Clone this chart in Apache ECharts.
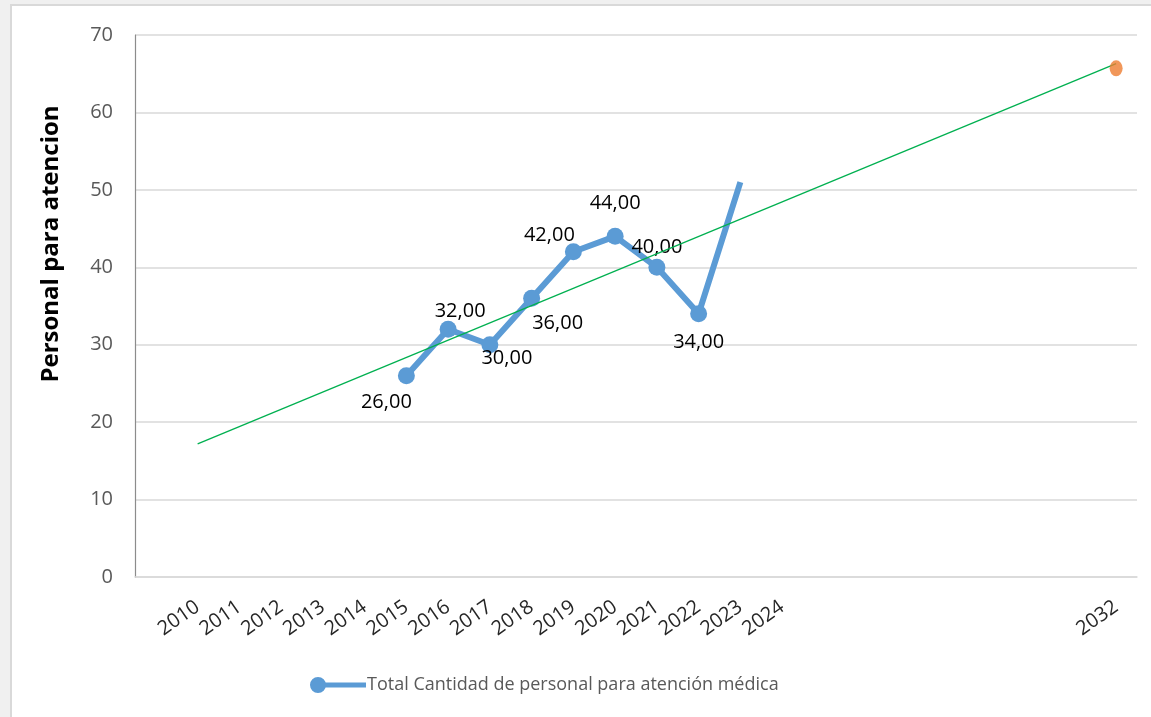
<!DOCTYPE html>
<html>
<head>
<meta charset="utf-8">
<script src="https://cdn.jsdelivr.net/npm/echarts@6/dist/echarts.min.js"></script>
<style>
  html, body { margin: 0; padding: 0; background: #f0f0f0; width: 1151px; height: 717px; overflow: hidden; }
  #frame { position: absolute; left: 10px; top: 4px; width: 1200px; height: 800px; background: #ffffff; border: 2px solid #d9d9d9; }
  #chart { position: absolute; left: 0; top: 0; width: 1151px; height: 717px; }
</style>
</head>
<body>
<div id="frame"></div>
<div id="chart"></div>
<script>
// ---- data ----
const years = [2015, 2016, 2017, 2018, 2019, 2020, 2021, 2022, 2023];
const personal = [26, 32, 30, 36, 42, 44, 40, 34, 51];
const xTickLabels = [2010, 2011, 2012, 2013, 2014, 2015, 2016, 2017, 2018, 2019, 2020, 2021, 2022, 2023, 2024, 2032];
const trendYears = [2010, 2032];
const trendValues = [17.2, 66.3];
const forecastYear = [2032];
const forecastValue = [65.7];
const seriesName = 'Total Cantidad de personal para atención médica';
const yAxisTitle = 'Personal para atencion';

// ---- label placement (style, not data) ----
const labelOffsets = [[-20, 27], [12, -18], [17, 14], [26, 25], [-24, -17], [0, -33], [0, -20], [0, 29], [0, -31]];

const FONT = 'Open Sans';
const mainData = years.map((y, i) => {
  const item = {
    value: [y, personal[i]],
    label: { position: 'inside', offset: labelOffsets[i] }
  };
  if (i === years.length - 1) item.symbol = 'none';
  return item;
});

const chart = echarts.init(document.getElementById('chart'), null, { renderer: 'canvas' });
chart.setOption({
  backgroundColor: 'transparent',
  animation: false,
  textStyle: { fontFamily: FONT },
  grid: { left: 135, top: 35, right: 14, bottom: 140, containLabel: false },
  legend: {
    left: 305, top: 671,
    itemWidth: 56, itemHeight: 16, itemGap: 10,
    data: [{
      name: seriesName,
      icon: 'path://M0,8 A8,8 0 1,1 16,8 A8,8 0 1,1 0,8 Z M12,5.5 L56,5.5 L56,10.5 L12,10.5 Z'
    }],
    textStyle: { color: '#595959', fontSize: 18, fontFamily: FONT, padding: [0, 0, 0, -4] }
  },
  xAxis: {
    type: 'value',
    min: 2008.5, max: 2032.5,
    axisLine: { show: true, onZero: true, lineStyle: { color: '#d9d9d9', width: 1.5 } },
    axisTick: { show: false },
    splitLine: { show: false },
    axisLabel: {
      customValues: xTickLabels,
      rotate: 35,
      margin: 28,
      fontSize: 20,
      color: '#262626',
      fontFamily: FONT,
      formatter: v => String(v)
    }
  },
  yAxis: {
    type: 'value',
    min: 0, max: 70, interval: 10,
    name: yAxisTitle,
    nameLocation: 'middle',
    nameRotate: 90,
    nameGap: 72,
    nameTextStyle: { fontSize: 24, fontWeight: 'bold', color: '#000', fontFamily: FONT, padding: [0, 0, 0, 124] },
    axisLine: { show: true, lineStyle: { color: '#8c8c8c', width: 1.2 } },
    axisTick: { show: false },
    splitLine: { show: true, lineStyle: { color: '#d9d9d9', width: 1.5 } },
    axisLabel: { fontSize: 20, color: '#595959', margin: 22, fontFamily: FONT }
  },
  series: [
    {
      name: seriesName,
      type: 'line',
      data: mainData,
      symbol: 'circle',
      symbolSize: 17,
      itemStyle: { color: '#5b9bd5' },
      lineStyle: { color: '#5b9bd5', width: 6, join: 'round' },
      label: {
        show: true,
        fontSize: 20,
        color: '#000',
        fontFamily: FONT,
        formatter: p => p.value[1].toFixed(2).replace('.', ',')
      },
      z: 2
    },
    {
      name: 'Tendencia',
      type: 'line',
      data: trendYears.map((y, i) => [y, trendValues[i]]),
      symbol: 'none',
      lineStyle: { color: '#00b050', width: 1.3 },
      z: 3
    },
    {
      name: 'Pronóstico',
      type: 'scatter',
      data: forecastYear.map((y, i) => [y, forecastValue[i]]),
      symbol: 'circle',
      symbolSize: [13, 16],
      itemStyle: { color: '#ed7d31' },
      z: 4
    }
  ]
});
</script>
</body>
</html>
